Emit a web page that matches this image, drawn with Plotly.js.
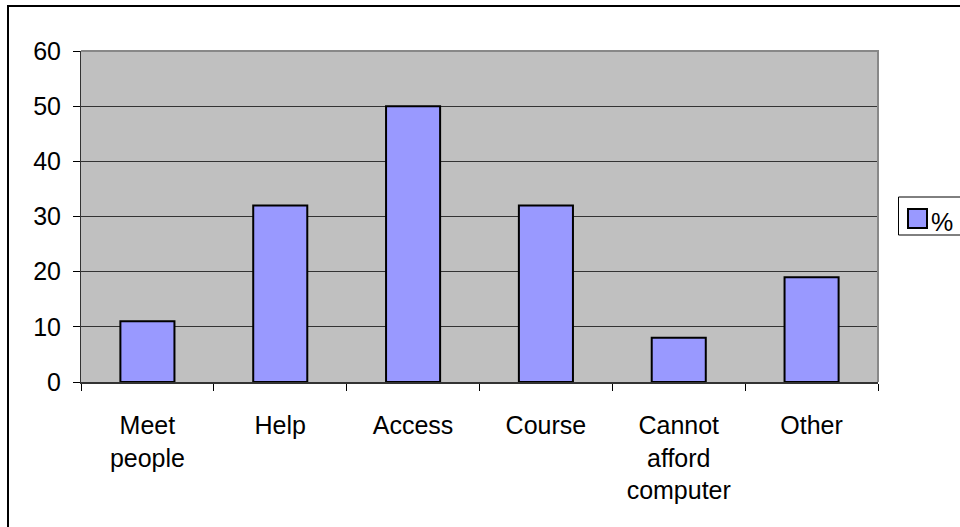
<!DOCTYPE html>
<html>
<head>
<meta charset="utf-8">
<script src="https://cdn.plot.ly/plotly-3.0.1.min.js"></script>
<style>
  html, body { margin: 0; padding: 0; background: #ffffff; }
  #chart { width: 960px; height: 527px; }
</style>
</head>
<body>
<div id="chart"></div>
<script>
// Reasons given for using the centre, in percent
const categories = ["Meet<br>people", "Help", "Access", "Course", "Cannot<br>afford<br>computer", "Other"];
const percentValues = [11, 32, 50, 32, 8, 19];
const seriesName = "%";
const yTickValues = [0, 10, 20, 30, 40, 50, 60];

const W = 960, H = 527;
const plotLeft = 81, plotRight = 878, plotTop = 51, plotBottom = 382;
const plotW = plotRight - plotLeft, plotH = plotBottom - plotTop;
// convert page pixels to paper coordinates
const px = v => (v - plotLeft) / plotW;
const py = v => (plotBottom - v) / plotH;

const font = { family: "Liberation Sans, Arial, sans-serif", size: 25, color: "#000000" };
const barColor = "#9999FF";

const trace = {
  type: "bar",
  x: categories,
  y: percentValues,
  name: seriesName,
  showlegend: false,
  marker: { color: barColor, line: { color: "#000000", width: 2 } },
  hoverinfo: "x+y"
};

// legend key drawn as shapes + annotation so the swatch size can be set
const legendBox = { x0: 898.5, x1: 1010, y0: 197, y1: 235 };
const swatch = { x0: 908, x1: 927, y0: 209, y1: 228 };

const layout = {
  width: W,
  height: H,
  margin: { l: plotLeft, r: W - plotRight, t: plotTop, b: H - plotBottom, autoexpand: false },
  paper_bgcolor: "#ffffff",
  plot_bgcolor: "#C0C0C0",
  font: font,
  bargap: 0.593,
  showlegend: false,
  xaxis: {
    type: "category",
    showgrid: false,
    showline: true,
    linecolor: "#333333",
    linewidth: 2,
    ticks: "outside",
    tickson: "boundaries",
    ticklen: 7,
    tickcolor: "#000000",
    tickwidth: 1,
    ticklabelstandoff: 20,
    tickfont: font,
    zeroline: false
  },
  yaxis: {
    range: [0, 60],
    tickvals: yTickValues,
    showgrid: true,
    gridcolor: "#333333",
    gridwidth: 1,
    showline: true,
    linecolor: "#333333",
    linewidth: 1,
    ticks: "outside",
    ticklen: 7,
    tickcolor: "#000000",
    tickwidth: 1,
    ticklabelstandoff: 7,
    tickfont: font,
    zeroline: false
  },
  shapes: [
    // gray frame of the plot area (top and right edges)
    {
      type: "path", xref: "paper", yref: "paper",
      path: "M 0 1 L 1 1 L 1 0",
      line: { color: "#888888", width: 2 },
      layer: "above"
    },
    // outer chart frame
    {
      type: "rect", xref: "paper", yref: "paper",
      x0: px(8), x1: px(1010), y0: py(580), y1: py(6),
      line: { color: "#000000", width: 2 },
      fillcolor: "rgba(0,0,0,0)",
      layer: "below"
    },
    // legend box
    {
      type: "rect", xref: "paper", yref: "paper",
      x0: px(legendBox.x0), x1: px(legendBox.x1), y0: py(legendBox.y1), y1: py(legendBox.y0),
      line: { color: "#000000", width: 1 },
      fillcolor: "#ffffff",
      layer: "above"
    },
    // legend swatch
    {
      type: "rect", xref: "paper", yref: "paper",
      x0: px(swatch.x0), x1: px(swatch.x1), y0: py(swatch.y1), y1: py(swatch.y0),
      line: { color: "#000000", width: 2 },
      fillcolor: barColor,
      layer: "above"
    }
  ],
  annotations: [
    {
      xref: "paper", yref: "paper",
      x: px(929), y: py(222),
      xanchor: "left", yanchor: "middle",
      text: seriesName,
      showarrow: false,
      font: { family: font.family, size: 25, color: "#000000" }
    }
  ]
};

Plotly.newPlot("chart", [trace], layout, { staticPlot: true, displayModeBar: false });
</script>
</body>
</html>
